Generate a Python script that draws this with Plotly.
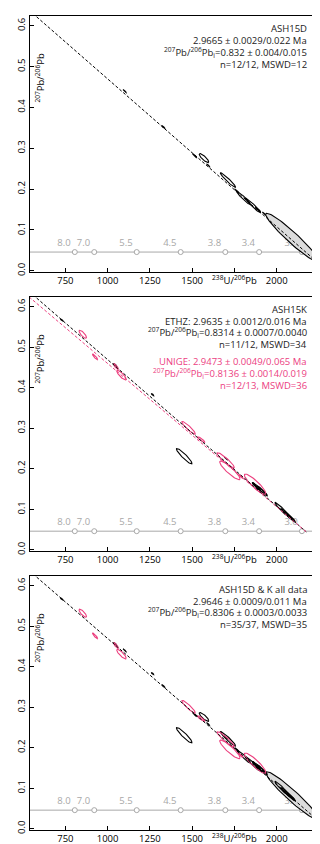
"""Tera-Wasserburg isochrons for ASH15D / ASH15K, three stacked panels."""

import numpy as np
import plotly.graph_objects as go

# ── data ─────────────────────────────────────────────────────────────────────

# ASH15D (black) error ellipses: centre, half-widths, x-y correlation
D_X = [1101, 1330, 1515, 1570, 1595, 1712, 1765, 1805, 1860, 1890, 1925, 2090]
D_Y = [0.440, 0.352, 0.282, 0.276, 0.258, 0.222, 0.195, 0.178, 0.160, 0.150, 0.140, 0.082]
D_SX = [10, 10, 12, 28, 10, 45, 12, 40, 45, 15, 10, 155]
D_SY = [0.004, 0.004, 0.005, 0.011, 0.004, 0.018, 0.005, 0.016, 0.018, 0.006, 0.004, 0.059]
D_RHO = [-0.95, -0.95, -0.95, -0.85, -0.95, -0.96, -0.95, -0.96, -0.97, -0.95, -0.95, -0.955]

# ASH15K, ETHZ (black)
E_X = [729, 1045, 1266, 1453, 1700, 1880, 1900, 1915, 2030, 2060, 2075, 2085]
E_Y = [0.567, 0.456, 0.383, 0.231, 0.225, 0.156, 0.150, 0.145, 0.100, 0.088, 0.082, 0.079]
E_SX = [8, 10, 8, 46, 10, 25, 43, 30, 40, 35, 34, 25]
E_SY = [0.003, 0.004, 0.003, 0.019, 0.004, 0.010, 0.016, 0.012, 0.017, 0.014, 0.013, 0.010]
E_RHO = [-0.9, -0.9, -0.9, -0.93, -0.95, -0.97, -0.97, -0.97, -0.96, -0.97, -0.97, -0.97]

# ASH15K, UNIGE (pink)
U_X = [853, 926, 1050, 1082, 1479, 1553, 1698, 1723, 1789, 1872]
U_Y = [0.532, 0.476, 0.452, 0.431, 0.301, 0.272, 0.221, 0.196, 0.181, 0.162]
U_SX = [22, 15, 14, 28, 40, 22, 51, 60, 12, 63]
U_SY = [0.010, 0.007, 0.007, 0.012, 0.016, 0.007, 0.019, 0.023, 0.005, 0.025]
U_RHO = [-0.8, -0.9, -0.85, -0.85, -0.93, -0.9, -0.93, -0.9, -0.9, -0.9]

# isochron lines: 207Pb/206Pb intercept, slope, last x
D_ISO = (0.832, -3.62e-4, 2235)
E_ISO = (0.8314, -3.62e-4, 2175)
U_ISO = (0.8136, -3.538e-4, 2175)
ALL_ISO = (0.8306, -3.61e-4, 2235)

# age markers (Ma) along the 207Pb/206Pb = 0.046 line
AGE_LABELS = ["8.0", "7.0", "5.5", "4.5", "3.8", "3.4", "3.0"]
AGE_X = [806, 921, 1172, 1432, 1696, 1896, 2149]
AGE_RATIO = 0.046

X_TICKS = [750, 1000, 1250, 1500, 1750, 2000]
X_TICKTEXT = ["750", "1000", "1250", "1500", "<sup>238</sup>U/<sup>206</sup>Pb", "2000"]
Y_TICKS = [0.0, 0.1, 0.2, 0.3, 0.4, 0.5, 0.6]
Y_TICKTEXT = ["0.0", "0.1", "0.2", "0.3", "0.4", "0.5", "0.6"]

PB = "<sup>207</sup>Pb/<sup>206</sup>Pb<sub>i</sub>"
P1_TEXT = ["ASH15D", "2.9665 ± 0.0029/0.022 Ma", PB + "=0.832 ± 0.004/0.015", "n=12/12, MSWD=12"]
P2_TEXT = ["ASH15K", "ETHZ: 2.9635 ± 0.0012/0.016 Ma", PB + "=0.8314 ± 0.0007/0.0040", "n=11/12, MSWD=34"]
P2_PINK = ["UNIGE: 2.9473 ± 0.0049/0.065 Ma", PB + "=0.8136 ± 0.0014/0.019", "n=12/13, MSWD=36"]
P3_TEXT = ["ASH15D & K all data", "2.9646 ± 0.0009/0.011 Ma", PB + "=0.8306 ± 0.0003/0.0033", "n=35/37, MSWD=35"]

# ── style ────────────────────────────────────────────────────────────────────

FONT = "Open Sans"
PINK = "#EC407F"
GREY = "#A8A8A8"
X_RANGE = [541, 2250]
Y_RANGE = [-0.003, 0.624]
W, H = 320, 844
M = dict(l=17, r=9, t=7, b=20)
# panel boxes in page pixels (top, bottom)
PANELS = [(7, 264), (289, 544), (569, 824)]
LW = 1.1
PLOT_W = W - M["l"] - M["r"]
PLOT_H = H - M["t"] - M["b"]


def sfx(k):
    return "" if k == 1 else str(k)


def ellipses(xs, ys, sxs, sys_, rhos, n=72):
    t = np.linspace(0, 2 * np.pi, n)
    px, py = [], []
    for x, y, sx, sy, r in zip(xs, ys, sxs, sys_, rhos):
        px += list(x + sx * np.cos(t)) + [None]
        py += list(y + sy * (r * np.cos(t) + np.sqrt(1 - r * r) * np.sin(t))) + [None]
    return px, py


def add_ellipses(fig, k, xs, ys, sxs, sys_, rhos, color, grey_big=False):
    xa, ya = "x" + sfx(k), "y" + sfx(k)
    if grey_big:
        big = [i for i, s in enumerate(sxs) if s > 100]
        px, py = ellipses([xs[i] for i in big], [ys[i] for i in big], [sxs[i] for i in big],
                          [sys_[i] for i in big], [rhos[i] for i in big])
        fig.add_trace(go.Scatter(x=px, y=py, mode="lines", fill="toself", fillcolor="#DCDCDC",
                                 line=dict(color=color, width=LW), xaxis=xa, yaxis=ya,
                                 hoverinfo="skip"))
        keep = [i for i in range(len(sxs)) if i not in big]
        xs, ys = [xs[i] for i in keep], [ys[i] for i in keep]
        sxs, sys_, rhos = [sxs[i] for i in keep], [sys_[i] for i in keep], [rhos[i] for i in keep]
    px, py = ellipses(xs, ys, sxs, sys_, rhos)
    fig.add_trace(go.Scatter(x=px, y=py, mode="lines", line=dict(color=color, width=LW),
                             xaxis=xa, yaxis=ya, hoverinfo="skip"))


def add_isochron(fig, k, iso, color):
    a, b, xend = iso
    xs = np.array([X_RANGE[0] - 50, xend])
    fig.add_trace(go.Scatter(x=xs, y=a + b * xs, mode="lines",
                             line=dict(color=color, width=1, dash="3px,2px"),
                             xaxis="x" + sfx(k), yaxis="y" + sfx(k), hoverinfo="skip"))


def add_ages(fig, k):
    fig.add_trace(go.Scatter(
        x=AGE_X, y=[AGE_RATIO] * len(AGE_X), mode="markers+text", text=AGE_LABELS,
        textposition="top left", textfont=dict(family=FONT, size=9.5, color=GREY),
        marker=dict(symbol="circle", size=5, color="white", line=dict(color=GREY, width=1)),
        xaxis="x" + sfx(k), yaxis="y" + sfx(k), hoverinfo="skip"))


def px_to_paper(xp, yp):
    return (xp - M["l"]) / PLOT_W, (H - M["b"] - yp) / PLOT_H


def add_text(fig, k, lines, offsets, color):
    top = PANELS[k - 1][0]
    for txt, off in zip(lines, offsets):
        x, y = px_to_paper(W - M["r"] - 10, top + off)
        fig.add_annotation(text=txt, xref="paper", yref="paper", x=x, y=y,
                           xanchor="right", yanchor="middle", showarrow=False,
                           font=dict(family=FONT, size=9.5, color=color))


fig = go.Figure()

for k, (top, bottom) in enumerate(PANELS, start=1):
    s = sfx(k)
    dom = [(H - M["b"] - bottom) / PLOT_H, (H - M["b"] - top) / PLOT_H]
    fig.update_layout(**{
        f"xaxis{s}": dict(domain=[0, 1], range=X_RANGE, anchor=f"y{s}", tickvals=X_TICKS,
                          ticktext=X_TICKTEXT, ticks="inside", ticklen=4, tickcolor="black",
                          showline=True, mirror=True, linecolor="black", linewidth=1,
                          showgrid=False, zeroline=False,
                          tickfont=dict(family=FONT, size=9.5, color="black")),
        f"yaxis{s}": dict(domain=dom, range=Y_RANGE, anchor=f"x{s}", tickvals=Y_TICKS,
                          ticktext=Y_TICKTEXT, tickangle=-90, ticks="inside", ticklen=4,
                          tickcolor="black", showline=True, mirror=True, linecolor="black",
                          linewidth=1, showgrid=False, zeroline=False,
                          tickfont=dict(family=FONT, size=9.5, color="black")),
    })
    fig.add_shape(type="line", xref=f"x{s} domain", yref=f"y{s}", x0=0, x1=1,
                  y0=AGE_RATIO, y1=AGE_RATIO, line=dict(color=GREY, width=1), layer="below")
    add_ages(fig, k)
    tx, ty = px_to_paper(27, top + 62)
    fig.add_annotation(text="<sup>207</sup>Pb/<sup>206</sup>Pb", textangle=-90,
                       xref="paper", yref="paper", x=tx, y=ty,
                       xanchor="center", yanchor="middle",
                       showarrow=False, font=dict(family=FONT, size=9.5, color="black"))

# panel 1: ASH15D
add_ellipses(fig, 1, D_X, D_Y, D_SX, D_SY, D_RHO, "black", grey_big=True)
add_isochron(fig, 1, D_ISO, "black")
add_text(fig, 1, P1_TEXT, [13, 25, 37, 49], "#222222")

# panel 2: ASH15K, ETHZ and UNIGE
add_ellipses(fig, 2, E_X, E_Y, E_SX, E_SY, E_RHO, "black")
add_ellipses(fig, 2, U_X, U_Y, U_SX, U_SY, U_RHO, PINK)
add_isochron(fig, 2, E_ISO, "black")
add_isochron(fig, 2, U_ISO, PINK)
add_text(fig, 2, P2_TEXT, [13, 24.5, 36, 48], "#222222")
add_text(fig, 2, P2_PINK, [65, 77, 89], PINK)

# panel 3: all data
add_ellipses(fig, 3, D_X, D_Y, D_SX, D_SY, D_RHO, "black", grey_big=True)
add_ellipses(fig, 3, E_X, E_Y, E_SX, E_SY, E_RHO, "black")
add_ellipses(fig, 3, U_X, U_Y, U_SX, U_SY, U_RHO, PINK)
add_isochron(fig, 3, ALL_ISO, "black")
add_text(fig, 3, P3_TEXT, [14, 25.5, 37, 48.5], "#222222")

fig.update_layout(width=W, height=H, margin=M, showlegend=False,
                  paper_bgcolor="white", plot_bgcolor="white",
                  font=dict(family=FONT, size=9.5, color="black"))

fig.write_html("out.html", config={"displayModeBar": False})
